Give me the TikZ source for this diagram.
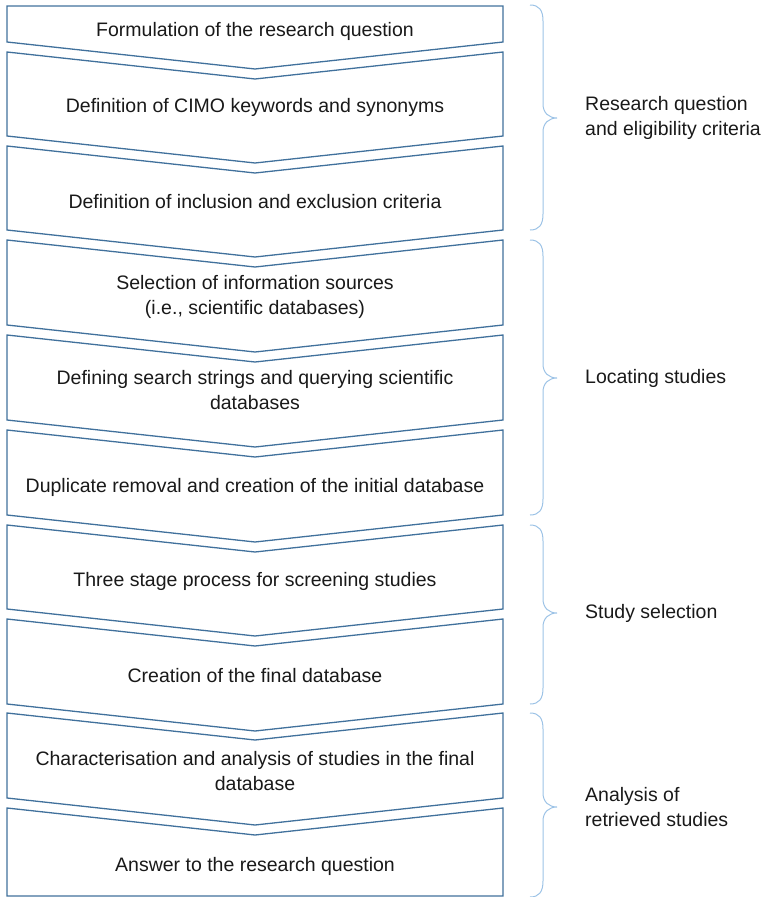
\documentclass[tikz,border=0pt]{standalone}
\usepackage{fontspec}
\setmainfont{Liberation Sans}
\definecolor{boxblue}{HTML}{41719C}
\definecolor{braceblue}{HTML}{9DC3E6}
\begin{document}
\begin{tikzpicture}[x=1pt,y=-1pt,
  box/.style={draw=boxblue,line width=1.3pt,line join=miter,fill=white},
  txt/.style={font=\fontsize{19.5}{24.5}\selectfont,align=center,text=black!90,inner sep=0pt},
  lbl/.style={font=\fontsize{19.5}{24.5}\selectfont,align=left,anchor=west,text=black!90,inner sep=0pt},
  brc/.style={draw=braceblue,line width=1pt}]
\useasboundingbox (0,0) rectangle (767,897);
% boxes
\draw[box] (7,6) -- (503,6) -- (503,42) -- (255,69) -- (7,42) -- cycle;
\foreach \t/\b in {52/136,146/230,240/325,335/420,430/515,525/609,619/704,713/798}{
  \draw[box] (7,\t) -- (255,\t+27) -- (503,\t) -- (503,\b) -- (255,\b+27) -- (7,\b) -- cycle;
}
\draw[box] (7,808) -- (255,835) -- (503,808) -- (503,896) -- (7,896) -- cycle;
% texts
\node[txt] (b1) at (255,31) {Formulation of the research question};
\node[txt] (b2) at (255,107) {Definition of CIMO keywords and synonyms};
\node[txt] (b3) at (255,202) {Definition of inclusion and exclusion criteria};
\node[txt] (b4) at (255,297) {Selection of information sources\\(i.e., scientific databases)};
\node[txt] (b5) at (255,390) {Defining search strings and querying scientific\\databases};
\node[txt] (b6) at (255,487) {Duplicate removal and creation of the initial database};
\node[txt] (b7) at (255,581) {Three stage process for screening studies};
\node[txt] (b8) at (255,676) {Creation of the final database};
\node[txt] (b9) at (255,771) {Characterisation and analysis of studies in the final\\database};
\node[txt] (b10) at (255,866) {Answer to the research question};
% braces
\foreach \ya/\yt/\yb in {5/118/230,240/378/515,525/613/704,713/807/897}{
  \draw[brc] (530,\ya) .. controls (539,\ya) and (543,\ya+5) .. (543,\ya+16)
    -- (543,\yt-14) .. controls (543,\yt-5) and (549,\yt) .. (557,\yt)
    .. controls (549,\yt) and (543,\yt+5) .. (543,\yt+14)
    -- (543,\yb-16) .. controls (543,\yb-5) and (539,\yb) .. (530,\yb);
}
% labels
\node[lbl] (l1) at (585,118) {Research question\\and eligibility criteria};
\node[lbl] (l2) at (585,378) {Locating studies};
\node[lbl] (l3) at (585,613) {Study selection};
\node[lbl] (l4) at (585,807) {Analysis of\\retrieved studies};
\end{tikzpicture}
\end{document}
